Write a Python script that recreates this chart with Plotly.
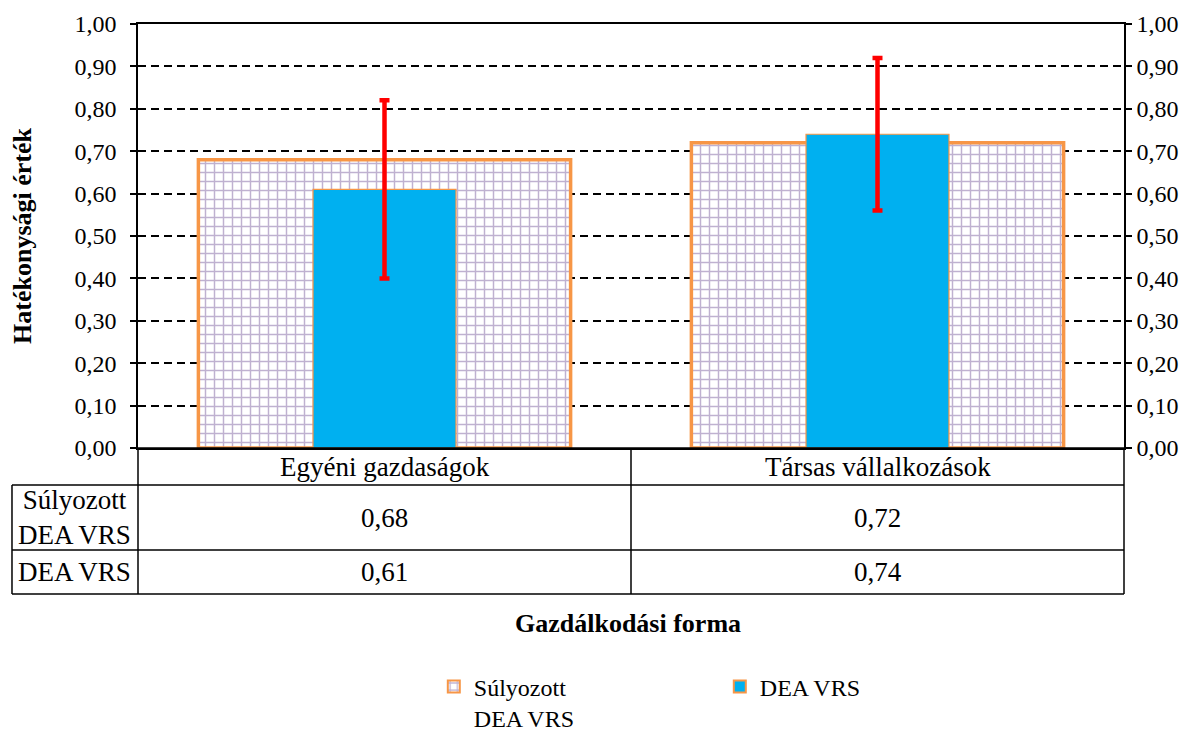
import plotly.graph_objects as go

categories = ["Egyéni gazdaságok", "Társas vállalkozások"]
series_names = ["Súlyozott<br>DEA VRS", "DEA VRS"]
row_labels = ["Súlyozott<br>DEA VRS", "DEA VRS"]
weighted_vals = [0.68, 0.72]
dea_vals = [0.61, 0.74]
dea_err = [0.21, 0.18]
y_ticks = [0.0, 0.1, 0.2, 0.3, 0.4, 0.5, 0.6, 0.7, 0.8, 0.9, 1.0]

FONT = "Liberation Serif, Times New Roman, serif"
ORANGE = "#F79646"
BLUE = "#00B0F0"
PURPLE = "#8064A2"
FS = 24
TAB = 27
TS = 26

fig = go.Figure()
fig.add_trace(go.Bar(
    x=categories, y=weighted_vals, name=series_names[0], width=0.755,
    marker=dict(color="white", line=dict(color=ORANGE, width=3.5),
                pattern=dict(shape="+", fgcolor=PURPLE, bgcolor="white", size=9, solidity=0.3)),
))
fig.add_trace(go.Bar(
    x=categories, y=dea_vals, name=series_names[1], width=0.29,
    marker=dict(color=BLUE, line=dict(color=ORANGE, width=1.2)),
    error_y=dict(type="data", array=dea_err, color="#FF0000", thickness=4.5, width=5),
))
# invisible trace to create right axis
fig.add_trace(go.Scatter(x=categories, y=dea_vals, yaxis="y2", mode="markers",
                         marker=dict(opacity=0), showlegend=False, hoverinfo="skip"))

fig.update_layout(
    width=1182, height=723,
    margin=dict(l=130, r=66, t=16, b=283, autoexpand=False),
    barmode="overlay",
    separators=", ",
    plot_bgcolor="white", paper_bgcolor="white",
    font=dict(family=FONT, size=FS, color="black"),
    xaxis=dict(showticklabels=False, showline=True, linecolor="black", linewidth=1.5,
               mirror=True, ticks="", range=[-0.5, 1.5]),
    yaxis=dict(range=[0, 1.0], tickvals=y_ticks, tickformat=".2f",
               showline=True, linecolor="black", linewidth=1.5, ticks="outside",
               ticklen=6, tickcolor="black", tickwidth=1.5, ticklabelstandoff=9,
               showgrid=True, gridcolor="black", gridwidth=1.5, griddash="8px,5px",
               zeroline=False,
               title=dict(text="<b>Hatékonysági érték</b>", font=dict(size=TS), standoff=36)),
    yaxis2=dict(range=[0, 1.0], tickvals=y_ticks, tickformat=".2f", overlaying="y", side="right",
                showline=True, linecolor="black", linewidth=1.5, ticks="outside",
                ticklen=6, tickcolor="black", tickwidth=1.5, showgrid=False, zeroline=False),
    legend=dict(orientation="h", x=0.300, xanchor="left", yref="container", y=0.092, yanchor="top",
                font=dict(size=FS), valign="top", entrywidth=241, entrywidthmode="pixels",
                itemsizing="constant", tracegroupgap=0),
)

# table below the plot
y_rows = [0, -0.0873, -0.2406, -0.3443]
x_left = -0.1278
line = dict(color="black", width=1.5)
fig.add_shape(type="line", xref="paper", yref="paper", x0=0, x1=1, y0=y_rows[0], y1=y_rows[0], line=line)
for yy in y_rows[1:]:
    fig.add_shape(type="line", xref="paper", yref="paper", x0=x_left, x1=1, y0=yy, y1=yy, line=line)
fig.add_shape(type="line", xref="paper", yref="paper", x0=x_left, x1=x_left, y0=y_rows[1], y1=y_rows[3], line=line)
for xx in [0, 1]:
    fig.add_shape(type="line", xref="paper", yref="paper", x0=xx, x1=xx, y0=y_rows[0], y1=y_rows[3], line=line)
fig.add_shape(type="line", xref="x", yref="paper", x0=0.5, x1=0.5, y0=y_rows[0], y1=y_rows[3], line=line)

def mid(a, b):
    return (a + b) / 2

for i, cat in enumerate(categories):
    fig.add_annotation(x=cat, xref="x", y=mid(y_rows[0], y_rows[1]), yref="paper",
                       text=cat, showarrow=False, font=dict(size=TAB),
                       xanchor="center", yanchor="middle")
    fig.add_annotation(x=cat, xref="x", y=mid(y_rows[1], y_rows[2]), yref="paper",
                       text=f"{weighted_vals[i]:.2f}".replace(".", ","), showarrow=False,
                       font=dict(size=TAB), xanchor="center", yanchor="middle")
    fig.add_annotation(x=cat, xref="x", y=mid(y_rows[2], y_rows[3]), yref="paper",
                       text=f"{dea_vals[i]:.2f}".replace(".", ","), showarrow=False,
                       font=dict(size=TAB), xanchor="center", yanchor="middle")
for j, lab in enumerate(row_labels):
    fig.add_annotation(x=mid(x_left, 0), xref="paper", y=mid(y_rows[j + 1], y_rows[j + 2]), yref="paper",
                       text=lab, showarrow=False, font=dict(size=TAB),
                       xanchor="center", yanchor="middle", align="center")

fig.add_annotation(x=0.497, xref="paper", y=-0.413, yref="paper", text="<b>Gazdálkodási forma</b>",
                   showarrow=False, font=dict(size=TS), xanchor="center", yanchor="middle")

fig.write_html("out.html")
